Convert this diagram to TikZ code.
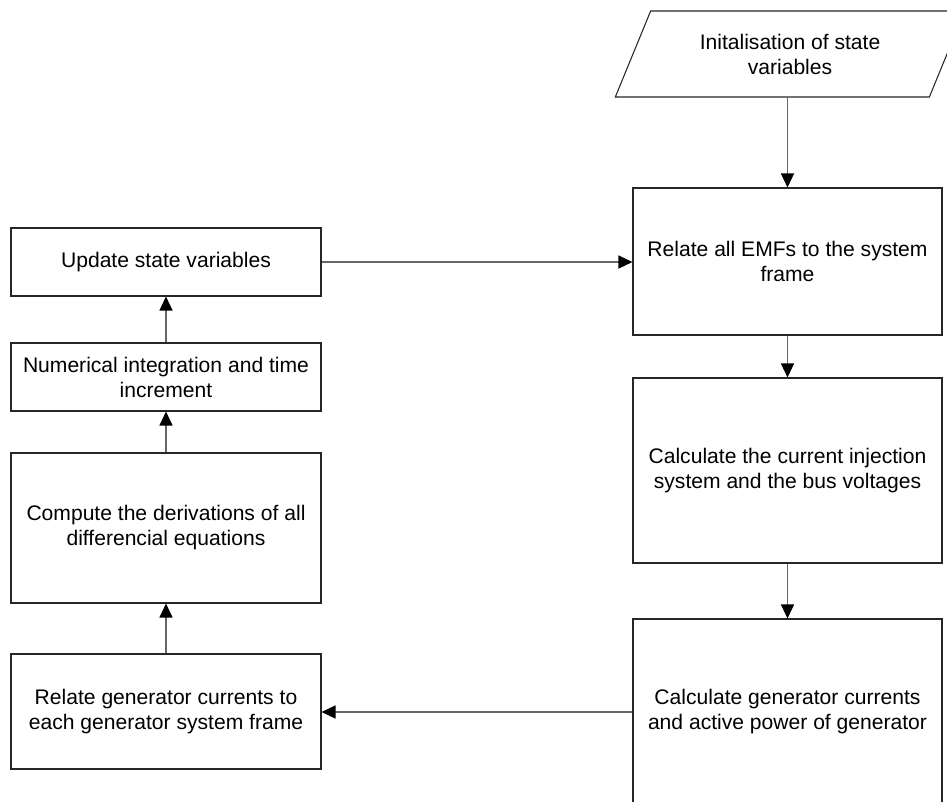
\documentclass[tikz,border=0pt]{standalone}
\usepackage{fontspec}
\setmainfont{Liberation Sans}
\usetikzlibrary{arrows.meta,shapes.geometric}

\begin{document}
\begin{tikzpicture}[
    font=\fontsize{12}{14.2}\selectfont,
    box/.style={draw=black!85, line width=0.6pt, align=center, inner sep=2pt},
    flow/.style={draw=black!60, line width=0.7pt, -{Triangle[length=0.28cm,width=0.26cm,color=black]}}
]

            % Page size of the reference
            \useasboundingbox (0,0) rectangle (18.94,-16.02);

            % Right column
            \node [box, trapezium, trapezium left angle=63.4, trapezium right angle=116.6,
                   trapezium stretches=true, minimum width=7.0cm, minimum height=1.72cm]
                  (init) at (15.80,-1.08) {Initalisation of state\\variables};
            \node [box, minimum width=6.18cm, minimum height=2.94cm] (emf) at (15.75,-5.23)
                  {Relate all EMFs to the system\\frame};
            \node [box, minimum width=6.18cm, minimum height=3.70cm] (inj) at (15.75,-9.41)
                  {Calculate the current injection\\system and the bus voltages};
            \node [box, minimum width=6.18cm, minimum height=3.72cm] (gencur) at (15.75,-14.24)
                  {Calculate generator currents\\and active power of generator};

            % Left column
            \node [box, minimum width=6.2cm, minimum height=1.36cm] (update) at (3.32,-5.24)
                  {Update state variables};
            \node [box, minimum width=6.2cm, minimum height=1.36cm] (integ) at (3.32,-7.54)
                  {Numerical integration and time\\increment};
            \node [box, minimum width=6.2cm, minimum height=3.0cm] (deriv) at (3.32,-10.56)
                  {Compute the derivations of all\\differencial equations};
            \node [box, minimum width=6.2cm, minimum height=2.3cm] (relgen) at (3.32,-14.23)
                  {Relate generator currents to\\each generator system frame};

            % Connectors
            \draw [flow] (init.south -| emf.north) -- (emf.north);
            \draw [flow] (emf.south) -- (inj.north);
            \draw [flow] (inj.south) -- (gencur.north);
            \draw [flow] (gencur.west) -- (gencur.west -| relgen.east);
            \draw [flow] (relgen.north) -- (deriv.south);
            \draw [flow] (deriv.north) -- (integ.south);
            \draw [flow] (integ.north) -- (update.south);
            \draw [flow] (update.east) -- (update.east -| emf.west);

\end{tikzpicture}
\end{document}
